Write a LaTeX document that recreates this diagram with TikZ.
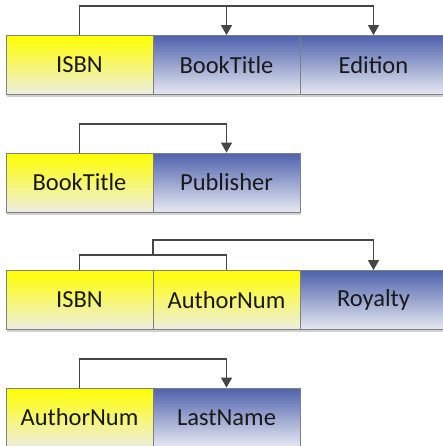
\documentclass[tikz,border=0pt]{standalone}
\usepackage{fontspec}
\setmainfont{Carlito}
\usetikzlibrary{arrows.meta}
\pgfdeclarelayer{background}
\pgfsetlayers{background,main}
\definecolor{ytop}{RGB}{255,255,0}
\definecolor{ybot}{RGB}{238,238,222}
\definecolor{btop}{RGB}{78,98,172}
\definecolor{bbot}{RGB}{228,230,240}
\definecolor{edge}{RGB}{128,128,128}
\definecolor{conn}{RGB}{70,70,70}
\definecolor{txt}{RGB}{25,25,25}
\newcommand{\gradfill}[2]{%
  \foreach \i in {0,...,39}{%
    \pgfmathsetmacro{\pc}{100-\i*100/39}%
    \fill[#1!\pc!#2]
      ($(path picture bounding box.north west)!\i/40!(path picture bounding box.south west)$)
      rectangle
      ($(path picture bounding box.north east)!\i/40+0.03!(path picture bounding box.south east)$);
  }}
\usetikzlibrary{calc}
\tikzset{
  cell/.style={draw=edge, line width=0.8pt, minimum width=147pt, minimum height=59pt,
    inner sep=0pt, text=txt, font=\fontsize{24.5}{28}\selectfont},
  keycell/.style={cell, path picture={\gradfill{ytop}{ybot}}},
  valcell/.style={cell, path picture={\gradfill{btop}{bbot}}},
  shadowbar/.style={fill=black!18},
  dep/.style={draw=conn, line width=1.2pt},
  deparrow/.style={dep, -{Triangle[length=10pt,width=11pt]}}
}
\begin{document}
\begin{tikzpicture}[x=1pt,y=1pt]
\useasboundingbox (0,0) rectangle (443,446);
% Row 1
\node[keycell] (r1a) at (79.5,381) {ISBN};
\node[valcell] (r1b) at (226.5,381) {BookTitle};
\node[valcell] (r1c) at (373.5,381) {Edition};
% Row 2
\node[keycell] (r2a) at (79.5,263.5) {BookTitle};
\node[valcell] (r2b) at (226.5,263.5) {Publisher};
% Row 3
\node[keycell] (r3a) at (79.5,146) {ISBN};
\node[keycell] (r3b) at (226.5,146) {AuthorNum};
\node[valcell] (r3c) at (373.5,146) {Royalty};
% Row 4
\node[keycell] (r4a) at (79.5,28.5) {AuthorNum};
\node[valcell] (r4b) at (226.5,28.5) {LastName};
\begin{pgfonlayer}{background}
\fill[shadowbar] ([xshift=1pt,yshift=-2.5pt]r1a.south west) rectangle ([xshift=1pt]r1c.south east);
\fill[shadowbar] ([xshift=1pt,yshift=-2.5pt]r2a.south west) rectangle ([xshift=1pt]r2b.south east);
\fill[shadowbar] ([xshift=1pt,yshift=-2.5pt]r3a.south west) rectangle ([xshift=1pt]r3c.south east);
\end{pgfonlayer}
% connectors row 1
\coordinate (t1) at (79.5,440);
\draw[deparrow] (r1a.north) -- (t1) -| (r1c.north);
\draw[deparrow] (t1 -| r1b.north) -- (r1b.north);
% row 2
\coordinate (t2) at (79.5,322);
\draw[deparrow] (r2a.north) -- (t2) -| (r2b.north);
% row 3
\coordinate (b3) at (79.5,191);
\coordinate (j3) at (153,191);
\coordinate (t3) at (153,206);
\draw[dep] (r3a.north) -- (b3) -| (r3b.north);
\draw[deparrow] (j3) -- (t3) -| (r3c.north);
% row 4
\coordinate (t4) at (79.5,87);
\draw[deparrow] (r4a.north) -- (t4) -| (r4b.north);
\end{tikzpicture}
\end{document}
